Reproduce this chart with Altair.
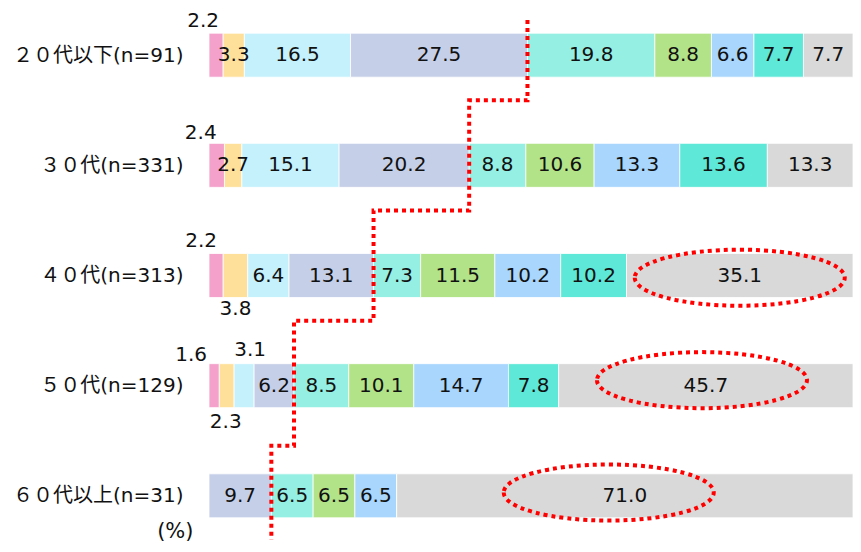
import json
import altair as alt
import pandas as pd

# ---------------- data ----------------
groups = ["２０代以下(n=91)", "３０代(n=331)", "４０代(n=313)", "５０代(n=129)", "６０代以上(n=31)"]
categories = ["c1", "c2", "c3", "c4", "c5", "c6", "c7", "c8", "c9"]
colors = ["#F4A1CB", "#FEE09A", "#C5F1FD", "#C6CFE8", "#95EFE3",
          "#B3E389", "#A8D6FD", "#5EE8D8", "#D9D9D9"]

v20 = [2.2, 3.3, 16.5, 27.5, 19.8, 8.8, 6.6, 7.7, 7.7]
v30 = [2.4, 2.7, 15.1, 20.2, 8.8, 10.6, 13.3, 13.6, 13.3]
v40 = [2.2, 3.8, 6.4, 13.1, 7.3, 11.5, 10.2, 10.2, 35.1]
v50 = [1.6, 2.3, 3.1, 6.2, 8.5, 10.1, 14.7, 7.8, 45.7]
v60 = [0.0, 0.0, 0.0, 9.7, 6.5, 6.5, 6.5, 0.0, 71.0]
series = [v20, v30, v40, v50, v60]

# ---------------- annotation placement (styling, not data) ----------------
# labels drawn outside the bar: (group index, segment index, dx, dy)
outside = [(0, 0, -13, -34), (1, 0, -16, -32), (2, 0, -15, -35), (2, 1, 0, 33),
           (3, 0, -23, -31), (3, 2, 6, -36), (3, 1, -1, 36)]
# ellipses around the last segment: (group index, x shift in %, y shift in rows)
ellipses = [(2, 0.0, 0.02), (3, -0.6, -0.05), (4, -2.5, -0.03)]
# step line levels (row units, 0 = first row centre)
step_top, step_levels, step_bottom = -0.32, [0.41, 1.41, 2.41, 3.546], 4.40

# ---------------- table ----------------
rows = []
out_keys = {(g, k) for g, k, _, _ in outside}
for gi, vals in enumerate(series):
    tot = sum(vals)
    cum = 0.0
    for k, v in enumerate(vals):
        s = cum / tot * 100
        cum += v
        e = cum / tot * 100
        rows.append(dict(group=groups[gi], gi=gi, k=k, cat=categories[k], value=v,
                         start=s, end=e, mid=(s + e) / 2, label=f"{v:.1f}",
                         place="out" if (gi, k) in out_keys else "in"))
df = pd.DataFrame(rows)

# ---------------- layout ----------------
W, H = 644, 536
row_step, first_centre, bar_h = 112.25, 43.0, 44
d0 = -first_centre / row_step
d1 = d0 + H / row_step

xs = alt.Scale(domain=[0, 100], nice=False, zero=False)
ys = alt.Scale(domain=[d0, d1], reverse=True, nice=False, zero=False)

num_font = "DejaVu Sans"
lab_font = "DejaVu Sans, Noto Sans CJK JP"
txt = dict(font=num_font, fontSize=20, color="#111111")

label_expr = json.dumps(groups, ensure_ascii=False) + "[datum.value]"
y_axis = alt.Axis(values=list(range(len(groups))), labelExpr=label_expr,
                  title="(%)", titleAngle=0, titleAlign="right", titleBaseline="middle",
                  titleX=-16, titleY=523, titleFontSize=21, titleFont=lab_font,
                  titleFontWeight="normal", titleColor="#111111",
                  labelFontSize=20, labelFont=lab_font, labelColor="#111111",
                  labelPadding=26, domain=False, ticks=False, grid=False)

base = alt.Chart(df)

bars = base.mark_bar(height=bar_h, stroke="white", strokeWidth=0.8).encode(
    x=alt.X("start:Q", scale=xs, axis=None),
    x2="end:Q",
    y=alt.Y("gi:Q", scale=ys, axis=y_axis),
    color=alt.Color("cat:N", scale=alt.Scale(domain=categories, range=colors), legend=None),
)

inside = base.transform_filter(
    (alt.datum.place == "in") & (alt.datum.value > 0)
).mark_text(**txt).encode(
    x=alt.X("mid:Q", scale=xs),
    y=alt.Y("gi:Q", scale=ys),
    text="label:N",
)

out_layers = []
for g, k, dx, dy in outside:
    out_layers.append(
        base.transform_filter((alt.datum.gi == g) & (alt.datum.k == k))
        .mark_text(dx=dx, dy=dy, **txt)
        .encode(x=alt.X("mid:Q", scale=xs), y=alt.Y("gi:Q", scale=ys), text="label:N")
    )

last = df[df.k == len(categories) - 1].set_index("gi")
ell_df = pd.DataFrame([dict(xe=last.loc[g, "mid"] + sh, ye=g + dv) for g, sh, dv in ellipses])
ell_path = "M -1 0 A 1 0.267 0 1 0 1 0 A 1 0.267 0 1 0 -1 0 Z"
ell = alt.Chart(ell_df).mark_point(
    shape=ell_path, size=210 * 210, filled=False, stroke="#FF0000", strokeWidth=4,
    strokeDash=[4, 4], opacity=1,
).encode(
    x=alt.X("xe:Q", scale=xs),
    y=alt.Y("ye:Q", scale=ys),
)

# step line at boundary between 4th and 5th segment
bnd = [sum(v[:4]) / sum(v) * 100 for v in series]
pts = [(bnd[0], step_top)]
for i, lv in enumerate(step_levels):
    pts.append((bnd[i], lv))
    pts.append((bnd[i + 1], lv))
pts.append((bnd[-1], step_bottom))
line_df = pd.DataFrame([dict(xe=x, ye=v, o=i) for i, (x, v) in enumerate(pts)])
line = alt.Chart(line_df).mark_line(
    color="#FF0000", strokeWidth=4, strokeDash=[4, 4], strokeCap="butt"
).encode(
    x=alt.X("xe:Q", scale=xs),
    y=alt.Y("ye:Q", scale=ys),
    order="o:Q",
)

chart = alt.layer(bars, inside, *out_layers, ell, line).properties(
    width=W, height=H,
    autosize=alt.AutoSizeParams(type="none"),
    padding={"left": 201, "top": 0, "right": 0, "bottom": 0},
).configure_view(stroke=None)

chart.save("out.html", embed_options={"renderer": "svg", "actions": False})
